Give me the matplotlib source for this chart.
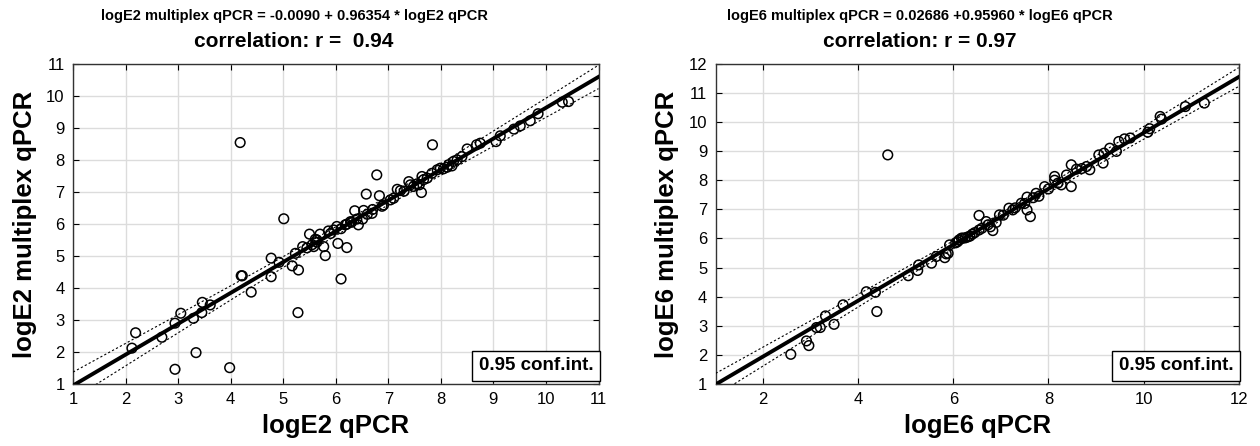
import numpy as np
import matplotlib
matplotlib.use("Agg")
import matplotlib.pyplot as plt

plt.rcParams['font.family'] = ['Liberation Sans', 'DejaVu Sans']

# ---- data ----
e2_qpcr = [2.12, 2.19, 2.69, 2.94, 3.05, 2.94, 3.34, 3.29, 3.46, 3.45, 3.61, 3.98,
           4.20, 4.22, 4.39, 4.77, 4.77, 4.92, 5.17, 5.29, 5.28, 5.23, 5.37, 5.50,
           5.58, 5.77, 5.80, 5.70, 5.64, 6.04, 6.10, 6.21, 4.18, 5.01, 6.02, 5.86,
           6.36, 6.21, 5.64, 5.61, 5.96, 6.18, 6.28, 6.43, 6.51, 6.53, 6.69, 6.58,
           6.78, 6.83, 6.91, 7.04, 7.17, 7.23, 7.39, 7.42, 7.48, 7.59, 7.63, 7.64,
           7.67, 7.74, 7.84, 7.83, 7.93, 7.99, 8.12, 8.21, 8.24, 8.31, 8.50, 8.68,
           8.75, 9.05, 9.13, 9.39, 9.51, 9.70, 9.85, 10.31, 10.43,
           5.45, 5.55, 5.90, 6.10, 6.30, 6.40, 6.60, 6.70, 6.88, 7.10, 7.30, 7.55,
           8.05, 8.15, 8.40]
e2_multi = [2.12, 2.60, 2.46, 2.90, 3.21, 1.46, 1.98, 3.05, 3.55, 3.23, 3.47, 1.51,
            4.38, 4.38, 3.87, 4.93, 4.35, 4.80, 4.69, 4.56, 3.23, 5.08, 5.29, 5.68,
            5.29, 5.29, 5.01, 5.68, 5.43, 5.39, 4.28, 5.26, 8.54, 6.16, 5.92, 5.78,
            6.41, 5.99, 5.50, 5.52, 5.81, 5.97, 6.07, 5.97, 6.15, 6.42, 6.33, 6.93,
            7.53, 6.88, 6.59, 6.75, 7.08, 7.04, 7.32, 7.22, 7.17, 7.22, 6.98, 7.48,
            7.38, 7.43, 8.47, 7.58, 7.69, 7.74, 7.77, 7.81, 7.95, 8.00, 8.34, 8.47,
            8.52, 8.57, 8.75, 8.96, 9.06, 9.22, 9.44, 9.80, 9.82,
            5.25, 5.35, 5.70, 5.85, 6.05, 6.15, 6.30, 6.45, 6.55, 6.80, 7.02, 7.25,
            7.72, 7.85, 8.10]

e6_qpcr = [2.58, 2.91, 2.96, 3.12, 3.20, 3.31, 3.49, 3.68, 4.17, 4.36, 4.39, 4.62,
           5.05, 5.25, 5.27, 5.54, 5.64, 5.82, 5.85, 5.89, 5.92, 6.09, 6.17, 6.20,
           6.30, 6.35, 6.40, 6.45, 6.54, 6.54, 6.60, 6.69, 6.73, 6.83, 6.78, 6.90,
           6.97, 7.05, 7.17, 7.25, 7.30, 7.43, 7.50, 7.55, 7.55, 7.62, 7.68, 7.74,
           7.80, 7.92, 8.00, 8.13, 8.13, 8.20, 8.27, 8.38, 8.48, 8.48, 8.59, 8.70,
           8.80, 8.87, 9.06, 9.15, 9.17, 9.29, 9.43, 9.48, 9.60, 9.72, 10.09, 10.13,
           10.35, 10.38, 10.88, 11.28, 6.05, 6.12, 6.25]
e6_multi = [2.02, 2.48, 2.32, 2.94, 2.94, 3.34, 3.05, 3.72, 4.17, 4.15, 3.49, 8.87,
            4.72, 4.90, 5.09, 5.15, 5.38, 5.34, 5.47, 5.49, 5.78, 5.89, 6.01, 6.01,
            6.05, 6.08, 6.15, 6.20, 6.79, 6.29, 6.35, 6.58, 6.47, 6.27, 6.40, 6.55,
            6.81, 6.80, 7.04, 6.98, 7.05, 7.21, 7.20, 7.42, 6.98, 6.75, 7.40, 7.55,
            7.45, 7.78, 7.70, 8.13, 8.00, 7.90, 7.84, 8.18, 8.53, 7.78, 8.38, 8.40,
            8.47, 8.36, 8.87, 8.59, 8.93, 9.10, 8.99, 9.33, 9.42, 9.45, 9.65, 9.77,
            10.19, 10.10, 10.53, 10.65, 5.85, 5.95, 6.02]

# fitted coefficients printed above each panel
e2_fit = (-0.0090, 0.96354)
e6_fit = (0.02686, 0.95960)
e2_r = "0.94"
e6_r = "0.97"


def draw_panel(ax, xs, ys, fit, xlim, ylim, xticks, yticks):
    xs = np.array(xs)
    ys = np.array(ys)
    a, b = fit
    # regression line and 95% band for the mean
    xx = np.linspace(xlim[0], xlim[1], 200)
    yy = a + b * xx
    n = len(xs)
    resid = ys - (a + b * xs)
    s = np.sqrt(np.sum(resid ** 2) / (n - 2))
    sxx = np.sum((xs - xs.mean()) ** 2)
    half = 1.98 * s * np.sqrt(1.0 / n + (xx - xs.mean()) ** 2 / sxx)

    ax.grid(True, color='#dcdcdc', lw=1.0, zorder=0)
    ax.scatter(xs, ys, s=48, facecolors='none', edgecolors='black',
               linewidths=1.1, zorder=3)
    ax.plot(xx, yy, color='black', lw=2.8, zorder=4)
    ax.plot(xx, yy + half, color='black', lw=0.8, ls=(0, (2, 2)), zorder=4)
    ax.plot(xx, yy - half, color='black', lw=0.8, ls=(0, (2, 2)), zorder=4)

    ax.set_xlim(xlim)
    ax.set_ylim(ylim)
    ax.set_xticks(xticks)
    ax.set_yticks(yticks)
    ax.tick_params(direction='in', top=True, right=True, length=4,
                   labelsize=12, pad=6)
    for sp in ax.spines.values():
        sp.set_color('#333333')
        sp.set_linewidth(1.0)
    ax.text(0.99, 0.03, '0.95 conf.int.', transform=ax.transAxes,
            ha='right', va='bottom', fontsize=13.5, fontweight='bold', zorder=6,
            bbox=dict(boxstyle='square,pad=0.35', fc='white', ec='black', lw=1.0))


fig = plt.figure(figsize=(12.6, 4.46), dpi=100)

ax1 = fig.add_axes([0.058, 0.139, 0.417, 0.718])
draw_panel(ax1, e2_qpcr, e2_multi, e2_fit, (1, 11), (1, 11),
           range(1, 12), range(1, 12))
ax1.set_xlabel('logE2 qPCR', fontsize=18.5, fontweight='bold', labelpad=5)
ax1.set_ylabel('logE2 multiplex qPCR', fontsize=18.5, fontweight='bold', labelpad=7)

ax2 = fig.add_axes([0.568, 0.139, 0.415, 0.718])
draw_panel(ax2, e6_qpcr, e6_multi, e6_fit, (1, 12), (1, 12),
           range(2, 13, 2), range(1, 13))
ax2.set_xlabel('logE6 qPCR', fontsize=18.5, fontweight='bold', labelpad=5)
ax2.set_ylabel('logE6 multiplex qPCR', fontsize=18.5, fontweight='bold', labelpad=7)

fig.text(294 / 1260, 0.964, 'logE2 multiplex qPCR = -0.0090 + 0.96354 * logE2 qPCR',
         ha='center', va='center', fontsize=10.5, fontweight='bold')
fig.text(294 / 1260, 0.906, 'correlation: r =  ' + e2_r,
         ha='center', va='center', fontsize=15, fontweight='bold')
fig.text(920 / 1260, 0.964, 'logE6 multiplex qPCR = 0.02686 +0.95960 * logE6 qPCR',
         ha='center', va='center', fontsize=10.5, fontweight='bold')
fig.text(920 / 1260, 0.906, 'correlation: r = ' + e6_r,
         ha='center', va='center', fontsize=15, fontweight='bold')

fig.savefig('out.png', dpi=100)
